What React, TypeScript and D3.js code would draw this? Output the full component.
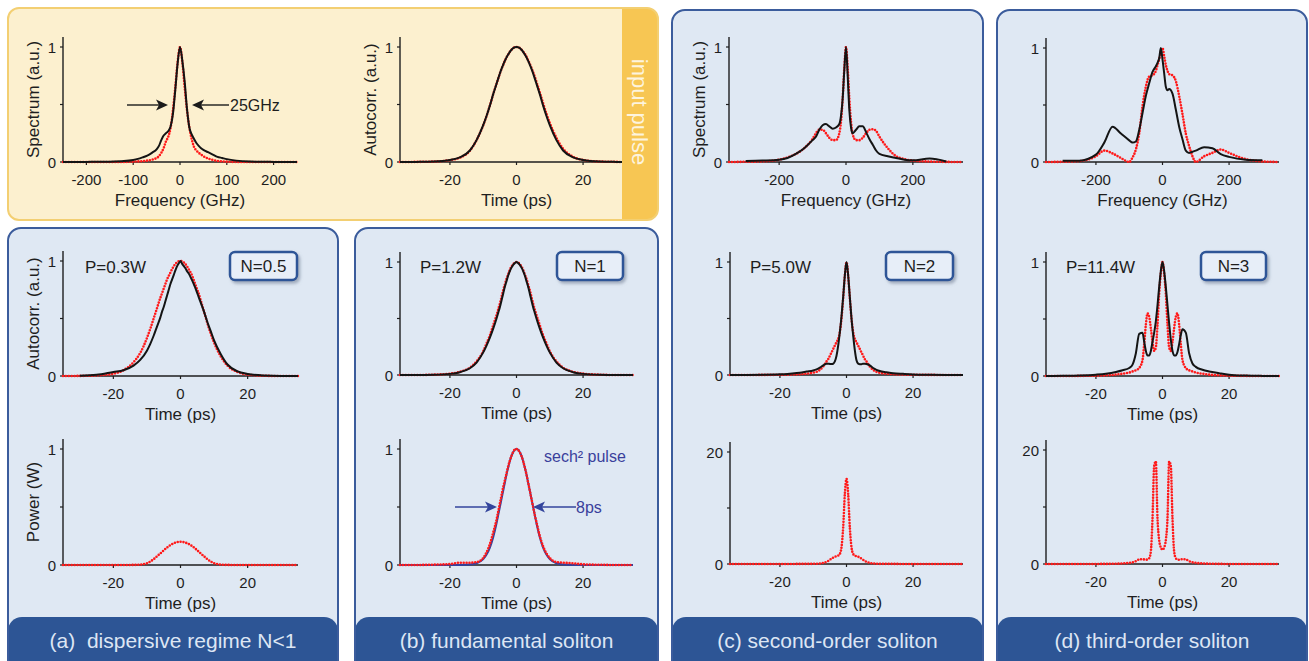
import React from 'react'
import * as d3 from 'd3'

const W = 1309
const H = 661
const FONT = '"Liberation Sans", Arial, Helvetica, sans-serif'

// ---- data ----

// time axis samples, ps
const timeGrid = [-35, -30, -25, -20, -17, -14, -12, -10, -9, -8, -7, -6, -5.5, -5, -4.5, -4, -3.5, -3, -2.5, -2, -1.5, -1, -0.5, 0, 0.5, 1, 1.5, 2, 2.5, 3, 3.5, 4, 4.5, 5, 5.5, 6, 7, 8, 9, 10, 12, 14, 17, 20, 25, 30, 35]

// frequency samples, GHz
const freqNarrow = [-250, -200, -150, -120, -100, -90, -80, -70, -60, -50, -45, -40, -35, -30, -25, -20, -15, -10, -5, 0, 5, 10, 15, 20, 25, 30, 35, 40, 45, 50, 60, 70, 80, 90, 100, 120, 150, 200, 250]
const freqWide = [-350, -300, -250, -200, -175, -150, -125, -100, -90, -80, -70, -60, -50, -40, -30, -20, -15, -10, -5, 0, 5, 10, 15, 20, 30, 40, 50, 60, 70, 80, 90, 100, 125, 150, 175, 200, 250, 300, 350]

// input pulse
const inputSpecMeas = [0, 0.001, 0.003, 0.008, 0.018, 0.027, 0.04, 0.055, 0.08, 0.11, 0.14, 0.19, 0.23, 0.25, 0.27, 0.31, 0.42, 0.63, 0.86, 1, 0.88, 0.7, 0.46, 0.3, 0.24, 0.2, 0.165, 0.14, 0.12, 0.105, 0.085, 0.065, 0.045, 0.035, 0.025, 0.012, 0.004, 0.001, 0]
const inputSpecSim = [0, 0, 0, 0.001, 0.003, 0.005, 0.008, 0.012, 0.02, 0.035, 0.05, 0.08, 0.12, 0.18, 0.22, 0.3, 0.45, 0.65, 0.87, 1, 0.87, 0.65, 0.45, 0.3, 0.2, 0.13, 0.1, 0.08, 0.065, 0.05, 0.03, 0.018, 0.01, 0.006, 0.003, 0.001, 0, 0, 0]
const inputAcMeas = [0, 0.001, 0.004, 0.017, 0.04, 0.1, 0.19, 0.32, 0.4, 0.49, 0.59, 0.68, 0.725, 0.77, 0.81, 0.845, 0.88, 0.91, 0.935, 0.958, 0.976, 0.99, 0.998, 1, 0.998, 0.99, 0.976, 0.958, 0.935, 0.91, 0.88, 0.845, 0.81, 0.77, 0.725, 0.68, 0.59, 0.49, 0.4, 0.32, 0.19, 0.1, 0.04, 0.017, 0.004, 0.001, 0]
const inputAcSim = [0, 0.001, 0.004, 0.016, 0.038, 0.098, 0.19, 0.32, 0.4, 0.49, 0.59, 0.68, 0.725, 0.77, 0.81, 0.845, 0.88, 0.91, 0.935, 0.958, 0.976, 0.99, 0.998, 1, 0.998, 0.99, 0.977, 0.96, 0.94, 0.915, 0.885, 0.852, 0.818, 0.78, 0.74, 0.695, 0.605, 0.51, 0.42, 0.34, 0.21, 0.115, 0.045, 0.018, 0.004, 0.001, 0]

// (a) N = 0.5
const acMeasA = [null, 0.003, 0.01, 0.035, 0.05, 0.09, 0.14, 0.22, 0.28, 0.35, 0.43, 0.51, 0.56, 0.6, 0.65, 0.7, 0.75, 0.8, 0.84, 0.88, 0.92, 0.955, 0.98, 1, 0.975, 0.955, 0.935, 0.91, 0.89, 0.86, 0.83, 0.795, 0.76, 0.72, 0.68, 0.64, 0.56, 0.47, 0.39, 0.31, 0.19, 0.1, 0.04, 0.018, 0.004, 0, 0]
const acSimA = [0, 0.001, 0.005, 0.02, 0.05, 0.12, 0.2, 0.33, 0.41, 0.5, 0.59, 0.68, 0.72, 0.76, 0.8, 0.84, 0.87, 0.9, 0.93, 0.955, 0.975, 0.99, 0.998, 1, 0.997, 0.988, 0.972, 0.95, 0.925, 0.9, 0.87, 0.83, 0.79, 0.75, 0.71, 0.66, 0.56, 0.46, 0.37, 0.29, 0.17, 0.09, 0.035, 0.012, 0.002, 0, 0]
const powerA = [0, 0, 0, 0, 0, 0.001, 0.004, 0.015, 0.03, 0.05, 0.075, 0.1, 0.113, 0.126, 0.139, 0.151, 0.162, 0.172, 0.18, 0.187, 0.193, 0.197, 0.199, 0.2, 0.199, 0.197, 0.193, 0.187, 0.18, 0.172, 0.162, 0.151, 0.139, 0.126, 0.113, 0.1, 0.075, 0.05, 0.03, 0.015, 0.004, 0.001, 0, 0, 0, 0, 0]

// (b) N = 1
const acMeasB = [0, 0, 0.002, 0.01, 0.025, 0.06, 0.11, 0.2, 0.26, 0.33, 0.41, 0.5, 0.55, 0.6, 0.66, 0.72, 0.78, 0.83, 0.88, 0.92, 0.95, 0.975, 0.99, 1, 0.99, 0.975, 0.95, 0.92, 0.88, 0.83, 0.78, 0.72, 0.66, 0.6, 0.55, 0.5, 0.41, 0.33, 0.26, 0.2, 0.11, 0.06, 0.025, 0.01, 0.002, 0, 0]
const acSimB = [0, 0, 0.003, 0.012, 0.028, 0.065, 0.12, 0.21, 0.28, 0.35, 0.44, 0.53, 0.58, 0.63, 0.69, 0.75, 0.8, 0.85, 0.89, 0.93, 0.96, 0.98, 0.995, 1, 0.995, 0.98, 0.96, 0.93, 0.89, 0.85, 0.8, 0.75, 0.69, 0.63, 0.58, 0.53, 0.44, 0.35, 0.28, 0.21, 0.12, 0.065, 0.028, 0.012, 0.003, 0, 0]
const sech2Fit = [0, 0, 0, 0, 0.001, 0.005, 0.015, 0.05, 0.09, 0.15, 0.24, 0.36, 0.43, 0.5, 0.57, 0.64, 0.71, 0.78, 0.84, 0.895, 0.94, 0.972, 0.993, 1, 0.993, 0.972, 0.94, 0.895, 0.84, 0.78, 0.71, 0.64, 0.57, 0.5, 0.43, 0.36, 0.24, 0.15, 0.09, 0.05, 0.015, 0.005, 0.001, 0, 0, 0, 0]
const powerB = [0, 0, 0.003, 0.008, 0.02, 0.02, 0.025, 0.06, 0.11, 0.18, 0.28, 0.39, 0.46, 0.53, 0.6, 0.67, 0.73, 0.79, 0.85, 0.9, 0.94, 0.975, 0.995, 1, 0.993, 0.97, 0.94, 0.895, 0.84, 0.78, 0.71, 0.64, 0.57, 0.5, 0.43, 0.37, 0.25, 0.16, 0.1, 0.06, 0.025, 0.02, 0.015, 0.006, 0.002, 0, 0]

// (c) N = 2
const specMeasC = [null, 0.008, 0.012, 0.02, 0.035, 0.07, 0.12, 0.19, 0.22, 0.28, 0.32, 0.33, 0.31, 0.29, 0.3, 0.33, 0.4, 0.55, 0.8, 1, 0.75, 0.45, 0.3, 0.25, 0.28, 0.31, 0.31, 0.26, 0.2, 0.15, 0.1, 0.07, 0.05, 0.035, 0.02, 0.015, 0.03, 0.005, null]
const specSimC = [0, 0.002, 0.005, 0.02, 0.04, 0.07, 0.12, 0.2, 0.25, 0.28, 0.28, 0.25, 0.21, 0.19, 0.19, 0.25, 0.35, 0.55, 0.82, 1, 0.82, 0.55, 0.35, 0.24, 0.19, 0.19, 0.21, 0.25, 0.28, 0.285, 0.27, 0.22, 0.12, 0.05, 0.025, 0.012, 0.004, 0.001, 0]
const acMeasC = [0, 0.001, 0.002, 0.006, 0.012, 0.02, 0.03, 0.04, 0.05, 0.065, 0.085, 0.1, 0.1, 0.098, 0.097, 0.1, 0.12, 0.17, 0.26, 0.38, 0.52, 0.69, 0.88, 1, 0.88, 0.69, 0.5, 0.35, 0.22, 0.13, 0.1, 0.095, 0.095, 0.1, 0.1, 0.098, 0.085, 0.062, 0.046, 0.035, 0.025, 0.016, 0.01, 0.005, 0.002, 0.001, 0]
const acSimC = [0, 0, 0.001, 0.002, 0.004, 0.007, 0.012, 0.02, 0.028, 0.045, 0.075, 0.12, 0.14, 0.17, 0.2, 0.23, 0.26, 0.29, 0.32, 0.38, 0.5, 0.68, 0.88, 1, 0.88, 0.68, 0.5, 0.38, 0.32, 0.29, 0.26, 0.23, 0.2, 0.17, 0.14, 0.12, 0.075, 0.045, 0.028, 0.02, 0.012, 0.007, 0.004, 0.002, 0.001, 0, 0]
const powerC = [0, 0, 0.003, 0.01, 0.01, 0.02, 0.03, 0.03, 0.05, 0.1, 0.2, 0.4, 0.55, 0.75, 0.95, 1.15, 1.3, 1.4, 1.5, 1.8, 3, 6.5, 12.5, 15.2, 12.5, 6.5, 3, 1.8, 1.5, 1.4, 1.3, 1.15, 0.95, 0.75, 0.55, 0.4, 0.2, 0.1, 0.05, 0.03, 0.03, 0.02, 0.01, 0.01, 0.003, 0, 0]

// (d) N = 3
const specMeasD = [null, 0.01, 0.012, 0.065, 0.17, 0.31, 0.25, 0.19, 0.17, 0.18, 0.28, 0.43, 0.58, 0.69, 0.79, 0.84, 0.87, 0.91, 1, 0.9, 0.78, 0.66, 0.63, 0.64, 0.6, 0.46, 0.31, 0.2, 0.1, 0.08, 0.09, 0.1, 0.13, 0.12, 0.07, 0.045, 0.02, 0.015, null]
const specSimD = [0, 0.002, 0.008, 0.05, 0.1, 0.075, 0.035, 0, 0.04, 0.11, 0.25, 0.49, 0.66, 0.75, 0.76, 0.8, 0.85, 0.9, 0.96, 1, 0.93, 0.85, 0.8, 0.77, 0.76, 0.71, 0.58, 0.42, 0.25, 0.14, 0.05, 0, 0.05, 0.08, 0.11, 0.08, 0.025, 0.005, 0]
const acMeasD = [0, 0.002, 0.005, 0.012, 0.02, 0.035, 0.05, 0.07, 0.1, 0.2, 0.37, 0.38, 0.3, 0.22, 0.18, 0.18, 0.22, 0.3, 0.38, 0.48, 0.62, 0.78, 0.92, 1, 0.92, 0.78, 0.62, 0.46, 0.32, 0.22, 0.18, 0.18, 0.21, 0.28, 0.36, 0.41, 0.38, 0.2, 0.11, 0.08, 0.055, 0.04, 0.025, 0.012, 0.004, 0.001, 0]
const acSimD = [0, 0, 0.001, 0.003, 0.006, 0.012, 0.02, 0.03, 0.04, 0.05, 0.07, 0.14, 0.28, 0.45, 0.55, 0.52, 0.42, 0.3, 0.22, 0.25, 0.45, 0.72, 0.9, 1, 0.9, 0.72, 0.45, 0.25, 0.22, 0.3, 0.42, 0.52, 0.55, 0.45, 0.28, 0.14, 0.07, 0.05, 0.04, 0.03, 0.02, 0.012, 0.006, 0.003, 0.001, 0, 0]
const powerD = [0, 0, 0.005, 0.01, 0.02, 0.05, 0.1, 0.2, 0.3, 0.5, 0.8, 0.85, 0.8, 0.75, 0.8, 1.0, 2.2, 8, 17.2, 18, 8, 4.2, 2.9, 2.5, 2.9, 4.2, 8, 18, 17.2, 8, 2.2, 1.0, 0.8, 0.75, 0.8, 0.85, 0.8, 0.5, 0.3, 0.2, 0.1, 0.05, 0.02, 0.01, 0.005, 0, 0]

const freqTicksNarrow = [-200, -100, 0, 100, 200]
const freqTicksWide = [-200, 0, 200]
const timeTicks = [-20, 0, 20]

// ---- styles ----
const LINE = {
  black: { stroke: '#141414', strokeWidth: 2 },
  red: { stroke: '#ff1a1a', strokeWidth: 2.6, strokeDasharray: '0 2.9', strokeLinecap: 'round' },
  blue: { stroke: '#34409c', strokeWidth: 2 },
}

const INK = '#1e1e1e'
const NAVY = '#2e5597'
const PANEL_FILL = '#dfe8f3'
const BAND = '#2d5595'

function Plot({ x0, x1, y0, y1, xDomain, yMax, xTicks, xTitle, yTitle, series }) {
  const x = d3.scaleLinear().domain(xDomain).range([x0, x1])
  const y = d3.scaleLinear().domain([0, yMax]).range([y0, y1])
  const line = d3.line()
    .defined(d => d[1] !== null)
    .x(d => x(d[0]))
    .y(d => y(d[1]))
    .curve(d3.curveMonotoneX)

  return (
    <g>
      <line x1={x0} x2={x1} y1={y0} y2={y0} stroke={INK} strokeWidth={1.4} />
      <line x1={x0} x2={x0} y1={y0} y2={y1 - 10} stroke={INK} strokeWidth={1.4} />
      {[0, yMax / 2, yMax].map(v => (
        <line key={v} x1={x0 - 3} x2={x0} y1={y(v)} y2={y(v)} stroke={INK} strokeWidth={1.2} />
      ))}
      {[0, yMax].map(v => (
        <text key={v} x={x0 - 7} y={y(v)} textAnchor="end" dominantBaseline="central" fontSize={15} fill={INK}>{v}</text>
      ))}
      {xTicks.map(v => (
        <g key={v}>
          <line x1={x(v)} x2={x(v)} y1={y0} y2={y0 + 3} stroke={INK} strokeWidth={1.2} />
          <text x={x(v)} y={y0 + 17} textAnchor="middle" dominantBaseline="central" fontSize={15} fill={INK}>{v}</text>
        </g>
      ))}
      <text x={(x0 + x1) / 2} y={y0 + 38} textAnchor="middle" dominantBaseline="central" fontSize={17} fill={INK}>{xTitle}</text>
      {yTitle && (
        <text transform={`translate(${x0 - 30},${(y0 + y1 - 10) / 2}) rotate(-90)`} textAnchor="middle" dominantBaseline="central" fontSize={17} fill={INK}>{yTitle}</text>
      )}
      {series.map((s, i) => (
        <path key={i} d={line(s.xs.map((v, j) => [v, s.ys[j]]))} fill="none" {...LINE[s.style]} />
      ))}
    </g>
  )
}

function Arrow({ from, to, y, color }) {
  const dir = Math.sign(to - from)
  const head = `M${to},${y} L${to - dir * 12},${y - 5.5} L${to - dir * 9},${y} L${to - dir * 12},${y + 5.5} Z`
  return (
    <g>
      <line x1={from} x2={to - dir * 9} y1={y} y2={y} stroke={color} strokeWidth={1.4} />
      <path d={head} fill={color} />
    </g>
  )
}

function BluePanel({ id, x, y, w, label }) {
  const h = H - y + 20
  return (
    <g>
      <clipPath id={id}><rect x={x} y={y} width={w} height={h} rx={13} /></clipPath>
      <g clipPath={`url(#${id})`}>
        <rect x={x} y={y} width={w} height={h} fill={PANEL_FILL} />
        <rect x={x} y={617} width={w} height={80} rx={14} fill={BAND} />
      </g>
      <rect x={x} y={y} width={w} height={h} rx={13} fill="none" stroke="#3b5c9c" strokeWidth={2} />
      <text x={x + w / 2} y={640} textAnchor="middle" dominantBaseline="central" fontSize={21} fill="#dde6f4" style={{ whiteSpace: 'pre' }}>{label}</text>
    </g>
  )
}

function NBox({ x, w, text }) {
  return (
    <g>
      <rect x={x} y={252} width={w} height={28} rx={5} fill="#e7eef8" stroke={NAVY} strokeWidth={2.5} filter="url(#shadow)" />
      <text x={x + w / 2} y={266.5} textAnchor="middle" dominantBaseline="central" fontSize={17} fill={INK}>{text}</text>
    </g>
  )
}

const s = (xs, ys, style) => ({ xs, ys, style })

export default function App() {
  return (
    <svg width={W} height={H} style={{ position: 'absolute', left: 0, top: 0, fontFamily: FONT }}>
      <defs>
        <filter id="shadow" x="-20%" y="-30%" width="150%" height="170%">
          <feDropShadow dx="2" dy="2.5" stdDeviation="1.6" floodColor="#6d7a90" floodOpacity="0.55" />
        </filter>
        <clipPath id="yellowClip"><rect x={8} y={8} width={650} height={212} rx={11} /></clipPath>
      </defs>
      <rect width={W} height={H} fill="#ffffff" />

      {/* input pulse panel */}
      <rect x={8} y={8} width={650} height={212} rx={11} fill="#fcf0cf" />
      <Plot x0={63} x1={297} y0={162} y1={47} xDomain={[-250, 250]} yMax={1} xTicks={freqTicksNarrow}
        xTitle="Frequency (GHz)" yTitle="Spectrum (a.u.)"
        series={[s(freqNarrow, inputSpecSim, 'red'), s(freqNarrow, inputSpecMeas, 'black')]} />
      <Arrow from={127} to={168} y={105} color="#1a1a1a" />
      <Arrow from={229} to={192} y={105} color="#1a1a1a" />
      <text x={230} y={105} dominantBaseline="central" fontSize={16} fill={INK}>25GHz</text>
      <Plot x0={400} x1={633} y0={162} y1={47} xDomain={[-35, 35]} yMax={1} xTicks={timeTicks}
        xTitle="Time (ps)" yTitle="Autocorr. (a.u.)"
        series={[s(timeGrid, inputAcSim, 'red'), s(timeGrid, inputAcMeas, 'black')]} />
      <g clipPath="url(#yellowClip)">
        <rect x={622} y={8} width={40} height={212} fill="#f7c653" />
      </g>
      <rect x={8} y={8} width={650} height={212} rx={11} fill="none" stroke="#f3cf72" strokeWidth={2} />
      <text transform="translate(639,112) rotate(90)" textAnchor="middle" dominantBaseline="central" fontSize={22} fill="#fdf4de">input pulse</text>

      {/* panels */}
      <BluePanel id="pa" x={8} y={228} w={330} label="(a)  dispersive regime N<1" />
      <BluePanel id="pb" x={355} y={228} w={303} label="(b) fundamental soliton" />
      <BluePanel id="pc" x={672} y={10} w={311} label="(c) second-order soliton" />
      <BluePanel id="pd" x={997} y={10} w={310} label="(d) third-order soliton" />

      {/* (a) */}
      <Plot x0={63} x1={298} y0={376} y1={261} xDomain={[-35, 35]} yMax={1} xTicks={timeTicks}
        xTitle="Time (ps)" yTitle="Autocorr. (a.u.)"
        series={[s(timeGrid, acSimA, 'red'), s(timeGrid, acMeasA, 'black')]} />
      <Plot x0={63} x1={298} y0={565} y1={449} xDomain={[-35, 35]} yMax={1} xTicks={timeTicks}
        xTitle="Time (ps)" yTitle="Power (W)"
        series={[s(timeGrid, powerA, 'red')]} />
      <text x={85} y={267} dominantBaseline="central" fontSize={17} fill={INK}>P=0.3W</text>
      <NBox x={230} w={67} text="N=0.5" />

      {/* (b) */}
      <Plot x0={400} x1={633} y0={375} y1={262} xDomain={[-35, 35]} yMax={1} xTicks={timeTicks}
        xTitle="Time (ps)"
        series={[s(timeGrid, acSimB, 'red'), s(timeGrid, acMeasB, 'black')]} />
      <Plot x0={400} x1={633} y0={565} y1={449} xDomain={[-35, 35]} yMax={1} xTicks={timeTicks}
        xTitle="Time (ps)"
        series={[s(timeGrid, sech2Fit, 'blue'), s(timeGrid, powerB, 'red')]} />
      <text x={420} y={267} dominantBaseline="central" fontSize={17} fill={INK}>P=1.2W</text>
      <NBox x={557} w={66} text="N=1" />
      <text x={544} y={456} dominantBaseline="central" fontSize={16} fill="#3a3f9c">sech² pulse</text>
      <Arrow from={455} to={497} y={507} color="#33449c" />
      <Arrow from={576} to={533} y={507} color="#33449c" />
      <text x={576} y={507} dominantBaseline="central" fontSize={16} fill="#3a3f9c">8ps</text>

      {/* (c) */}
      <Plot x0={729} x1={963} y0={162} y1={47} xDomain={[-350, 350]} yMax={1} xTicks={freqTicksWide}
        xTitle="Frequency (GHz)" yTitle="Spectrum (a.u.)"
        series={[s(freqWide, specSimC, 'red'), s(freqWide, specMeasC, 'black')]} />
      <Plot x0={730} x1={963} y0={375} y1={262} xDomain={[-35, 35]} yMax={1} xTicks={timeTicks}
        xTitle="Time (ps)"
        series={[s(timeGrid, acSimC, 'red'), s(timeGrid, acMeasC, 'black')]} />
      <Plot x0={730} x1={963} y0={564} y1={452} xDomain={[-35, 35]} yMax={20} xTicks={timeTicks}
        xTitle="Time (ps)"
        series={[s(timeGrid, powerC, 'red')]} />
      <text x={750} y={267} dominantBaseline="central" fontSize={17} fill={INK}>P=5.0W</text>
      <NBox x={886} w={67} text="N=2" />

      {/* (d) */}
      <Plot x0={1046} x1={1279} y0={162} y1={48} xDomain={[-350, 350]} yMax={1} xTicks={freqTicksWide}
        xTitle="Frequency (GHz)"
        series={[s(freqWide, specSimD, 'red'), s(freqWide, specMeasD, 'black')]} />
      <Plot x0={1046} x1={1279} y0={376} y1={262} xDomain={[-35, 35]} yMax={1} xTicks={timeTicks}
        xTitle="Time (ps)"
        series={[s(timeGrid, acSimD, 'red'), s(timeGrid, acMeasD, 'black')]} />
      <Plot x0={1046} x1={1279} y0={564} y1={450} xDomain={[-35, 35]} yMax={20} xTicks={timeTicks}
        xTitle="Time (ps)"
        series={[s(timeGrid, powerD, 'red')]} />
      <text x={1066} y={267} dominantBaseline="central" fontSize={17} fill={INK}>P=11.4W</text>
      <NBox x={1201} w={65} text="N=3" />
    </svg>
  )
}
